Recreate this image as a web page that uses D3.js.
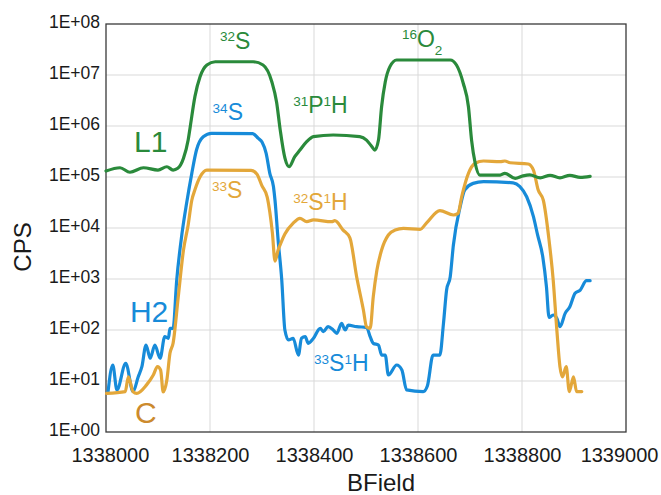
<!DOCTYPE html>
<html>
<head>
<meta charset="utf-8">
<script src="https://cdn.jsdelivr.net/npm/d3@7"></script>
<style>
  body { margin: 0; background: #fff; }
  svg { font-family: "Liberation Sans", Arial, sans-serif; }
</style>
</head>
<body>
<div id="chart"></div>
<script>
// Data: BField (x) and CPS (y) for each trace
const xTicks = [1338000, 1338200, 1338400, 1338600, 1338800, 1339000];
const yTicks = [1e0, 1e1, 1e2, 1e3, 1e4, 1e5, 1e6, 1e7, 1e8];

// L1 (green)
const l1Field = [1338000, 1338027, 1338046, 1338072, 1338100, 1338117, 1338129, 1338138, 1338149, 1338158,
  1338162, 1338171, 1338181, 1338194, 1338210, 1338283, 1338302, 1338319, 1338328, 1338335,
  1338344, 1338352, 1338363, 1338373, 1338386, 1338399, 1338437, 1338488, 1338501, 1338510,
  1338517, 1338524, 1338530, 1338537, 1338546, 1338559, 1338662, 1338674, 1338687, 1338697,
  1338703, 1338710, 1338719, 1338758, 1338767, 1338787, 1338802, 1338815, 1338835, 1338854,
  1338873, 1338892, 1338912, 1338931];
const l1Cps = [1.31e5, 1.52e5, 1.24e5, 1.52e5, 1.37e5, 1.59e5, 1.37e5, 1.48e5, 2.33e5, 5.3e5,
  9.7e5, 3.76e6, 9.3e6, 1.57e7, 1.82e7, 1.82e7, 1.57e7, 7.3e6, 2.96e6, 8.4e5,
  2.36e5, 1.59e5, 2.5e5, 3.38e5, 4.92e5, 6.17e5, 6.66e5, 6.17e5, 5.3e5, 4.1e5,
  3.38e5, 5.3e5, 2.39e6, 7.3e6, 1.46e7, 1.97e7, 1.97e7, 1.57e7, 6.9e6, 2.39e6,
  5.3e5, 1.86e5, 1.09e5, 1.09e5, 1.18e5, 9.4e4, 1.05e5, 1.1e5, 9.6e4, 1.08e5,
  9.6e4, 1.08e5, 9.8e4, 1.03e5];

// H2 (blue)
const h2Field = [1338004, 1338013, 1338021, 1338038, 1338052, 1338062, 1338069, 1338077, 1338085, 1338094,
  1338104, 1338113, 1338120, 1338123, 1338129, 1338136, 1338146, 1338155, 1338165, 1338174,
  1338187, 1338203, 1338282, 1338293, 1338300, 1338308, 1338315, 1338322, 1338325, 1338331,
  1338338, 1338344, 1338351, 1338360, 1338370, 1338376, 1338383, 1338389, 1338399, 1338412,
  1338418, 1338427, 1338437, 1338444, 1338453, 1338460, 1338466, 1338482, 1338501, 1338508,
  1338514, 1338524, 1338530, 1338537, 1338543, 1338559, 1338569, 1338578, 1338610, 1338618,
  1338629, 1338642, 1338649, 1338655, 1338662, 1338668, 1338681, 1338690, 1338706, 1338726,
  1338783, 1338796, 1338809, 1338822, 1338830, 1338840, 1338847, 1338852, 1338860, 1338867,
  1338873, 1338883, 1338892, 1338902, 1338912, 1338924, 1338931];
const h2Cps = [6.2, 20.6, 6.7, 22.2, 6.2, 12.1, 19.1, 50.8, 27.9, 50.8,
  27.9, 74, 68.8, 108, 108, 955, 7.6e3, 3.05e4, 1.18e5, 3.38e5,
  6.17e5, 7.2e5, 7.1e5, 5.7e5, 4.85e5, 2.9e5, 1.18e5, 6.5e4, 3.5e4, 5.8e3,
  955, 100, 63.7, 68.8, 32.3, 68.8, 74, 54.8, 68.8, 108,
  92.6, 116, 100, 86, 135, 100, 125, 116, 113, 74,
  54.8, 50.8, 32.3, 32.3, 13.1, 20.6, 16.4, 6.7, 6.2, 8.0,
  32.3, 32.3, 135, 608, 1.11e3, 4.6e3, 2.6e4, 5.6e4, 7.5e4, 8.1e4,
  7.7e4, 6.5e4, 4.1e4, 1.67e4, 7.3e3, 2.7e3, 706, 177, 197, 170,
  116, 212, 286, 525, 608, 927, 927];

// C (orange)
const cField = [1338001, 1338037, 1338043, 1338052, 1338059, 1338078, 1338091, 1338099, 1338105, 1338110,
  1338117, 1338123, 1338129, 1338139, 1338149, 1338158, 1338165, 1338171, 1338181, 1338194,
  1338279, 1338290, 1338300, 1338310, 1338315, 1338320, 1338325, 1338331, 1338337, 1338344,
  1338360, 1338373, 1338386, 1338399, 1338434, 1338440, 1338456, 1338469, 1338482, 1338495,
  1338501, 1338508, 1338514, 1338521, 1338530, 1338543, 1338556, 1338572, 1338604, 1338617,
  1338642, 1338668, 1338677, 1338684, 1338697, 1338710, 1338726, 1338758, 1338767, 1338777,
  1338812, 1338822, 1338831, 1338841, 1338852, 1338860, 1338867, 1338873, 1338878, 1338885,
  1338891, 1338899, 1338905, 1338915];
const cCps = [5.7, 6.2, 12.1, 6.2, 5.7, 8.4, 13.1, 19.1, 16.4, 6.1,
  10.4, 34.9, 55, 450, 3.7e3, 1.15e4, 3.5e4, 5.6e4, 1.01e5, 1.37e5,
  1.35e5, 1.15e5, 6.7e4, 4.05e4, 2.06e4, 8.0e3, 2.25e3, 3.7e3, 5.3e3, 7.6e3,
  1.24e4, 1.55e4, 1.33e4, 1.44e4, 1.33e4, 1.39e4, 9.1e3, 6.4e3, 1.11e3, 247,
  116, 108, 450, 1.5e3, 3.7e3, 7.3e3, 9.1e3, 9.8e3, 9.4e3, 1.28e4,
  2.2e4, 1.8e4, 1.94e4, 4.1e4, 1.18e5, 1.86e5, 2.06e5, 2.0e5, 2.06e5, 1.9e5,
  1.8e5, 1.37e5, 5.6e4, 3.5e4, 5.8e3, 955, 100, 19.1, 12.1, 19.1,
  6.2, 12.1, 6.2, 6.2];

const green = "#2a8a3b";
const blue = "#178bd9";
const orange = "#e3a73a";

// Chart dimension
const width = 661;
const height = 495;
const margin = { top: 24, right: 35, bottom: 63, left: 106 };

const x = d3
  .scaleLinear()
  .domain([1338000, 1339000])
  .range([margin.left, width - margin.right]);

const y = d3
  .scaleLog()
  .domain([1, 1e8])
  .range([height - margin.bottom, margin.top]);

const svg = d3
  .select("#chart")
  .append("svg")
  .attr("width", width)
  .attr("height", height);

// Grid
svg
  .append("g")
  .attr("stroke", "#d9d9d9")
  .attr("stroke-width", 1)
  .call((g) =>
    g
      .selectAll(".vgrid")
      .data(xTicks.slice(1, -1))
      .join("line")
      .attr("x1", (d) => x(d))
      .attr("x2", (d) => x(d))
      .attr("y1", margin.top)
      .attr("y2", height - margin.bottom)
  )
  .call((g) =>
    g
      .selectAll(".hgrid")
      .data(yTicks.slice(1, -1))
      .join("line")
      .attr("x1", margin.left)
      .attr("x2", width - margin.right)
      .attr("y1", (d) => y(d))
      .attr("y2", (d) => y(d))
  );

// X axis
const gx = svg
  .append("g")
  .attr("transform", `translate(0,${height - margin.bottom})`)
  .call(d3.axisBottom(x).tickValues(xTicks).tickSize(0).tickPadding(16).tickFormat(d3.format("d")))
  .call((g) => g.select(".domain").remove());
gx.selectAll("text")
  .attr("font-size", 20)
  .attr("fill", "#1a1a1a")
  .attr("font-family", "Liberation Sans, Arial, sans-serif");
// keep the end labels inside the figure
gx.selectAll(".tick text")
  .filter((d) => d === xTicks[0])
  .attr("text-anchor", "start")
  .attr("x", -35);
gx.selectAll(".tick text")
  .filter((d) => d === xTicks[xTicks.length - 1])
  .attr("text-anchor", "end")
  .attr("x", 32);

// Y axis
const gy = svg
  .append("g")
  .attr("transform", `translate(${margin.left},0)`)
  .call(
    d3
      .axisLeft(y)
      .tickValues(yTicks)
      .tickSize(0)
      .tickPadding(6)
      .tickFormat((d) => "1E+" + String(Math.round(Math.log10(d))).padStart(2, "0"))
  )
  .call((g) => g.select(".domain").remove());
gy.selectAll("text")
  .attr("font-size", 17.5)
  .attr("dy", 3)
  .attr("fill", "#1a1a1a")
  .attr("font-family", "Liberation Sans, Arial, sans-serif");

// Plot frame
svg
  .append("rect")
  .attr("x", margin.left)
  .attr("y", margin.top)
  .attr("width", width - margin.left - margin.right)
  .attr("height", height - margin.top - margin.bottom)
  .attr("fill", "none")
  .attr("stroke", "#3a3a3a")
  .attr("stroke-width", 1.3);

// Axis titles
svg
  .append("text")
  .attr("x", 381)
  .attr("y", 491)
  .attr("text-anchor", "middle")
  .attr("font-size", 24)
  .attr("fill", "#1a1a1a")
  .text("BField");

svg
  .append("text")
  .attr("transform", "translate(31,247) rotate(-90)")
  .attr("text-anchor", "middle")
  .attr("font-size", 24)
  .attr("fill", "#1a1a1a")
  .text("CPS");

// Lines
const line = d3
  .line()
  .x((d) => x(d[0]))
  .y((d) => y(d[1]))
  .curve(d3.curveMonotoneX);

const series = [
  { name: "H2", field: h2Field, cps: h2Cps, color: blue },
  { name: "C", field: cField, cps: cCps, color: orange },
  { name: "L1", field: l1Field, cps: l1Cps, color: green },
];

svg
  .append("g")
  .attr("class", "lines")
  .selectAll("path")
  .data(series)
  .join("path")
  .attr("fill", "none")
  .attr("stroke", (d) => d.color)
  .attr("stroke-width", 3.2)
  .attr("stroke-linejoin", "round")
  .attr("stroke-linecap", "round")
  .attr("d", (d) => line(d.field.map((f, i) => [f, d.cps[i]])));

// Annotations: parts are [text, "sup" | "sub" | null]
const annotations = [
  { at: [1338219, 3.3e7], color: green, parts: [["32", "sup"], ["S", null]] },
  { at: [1338569, 3.6e7], color: green, parts: [["16", "sup"], ["O", null], ["2", "sub"]] },
  { at: [1338205, 1.31e6], color: blue, parts: [["34", "sup"], ["S", null]] },
  { at: [1338360, 1.77e6], color: green, parts: [["31", "sup"], ["P", null], ["1", "sup"], ["H", null]] },
  { at: [1338204, 3.8e4], color: orange, parts: [["33", "sup"], ["S", null]] },
  { at: [1338360, 2.25e4], color: orange, parts: [["32", "sup"], ["S", null], ["1", "sup"], ["H", null]] },
  { at: [1338400, 15.7], color: blue, parts: [["33", "sup"], ["S", null], ["1", "sup"], ["H", null]] },
];

const gLabels = svg.append("g").attr("class", "labels");
annotations.forEach((a) => {
  const text = gLabels
    .append("text")
    .attr("x", x(a.at[0]))
    .attr("y", y(a.at[1]))
    .attr("fill", a.color)
    .attr("font-size", 23);
  let shift = 0;
  a.parts.forEach(([t, kind]) => {
    const target = kind === "sup" ? -7.5 : kind === "sub" ? 8 : 0;
    text
      .append("tspan")
      .attr("dy", target - shift)
      .attr("font-size", kind ? 13.5 : 23)
      .text(t);
    shift = target;
  });
});

// Big series names
const names = [
  { text: "L1", at: [1338054, 3.1e5], color: green },
  { text: "H2", at: [1338046, 145], color: blue },
  { text: "C", at: [1338056, 1.5], color: "#cc8a2d" },
];
gLabels
  .selectAll(".name")
  .data(names)
  .join("text")
  .attr("class", "name")
  .attr("x", (d) => x(d.at[0]))
  .attr("y", (d) => y(d.at[1]))
  .attr("fill", (d) => d.color)
  .attr("font-size", 30)
  .text((d) => d.text);
</script>
</body>
</html>
